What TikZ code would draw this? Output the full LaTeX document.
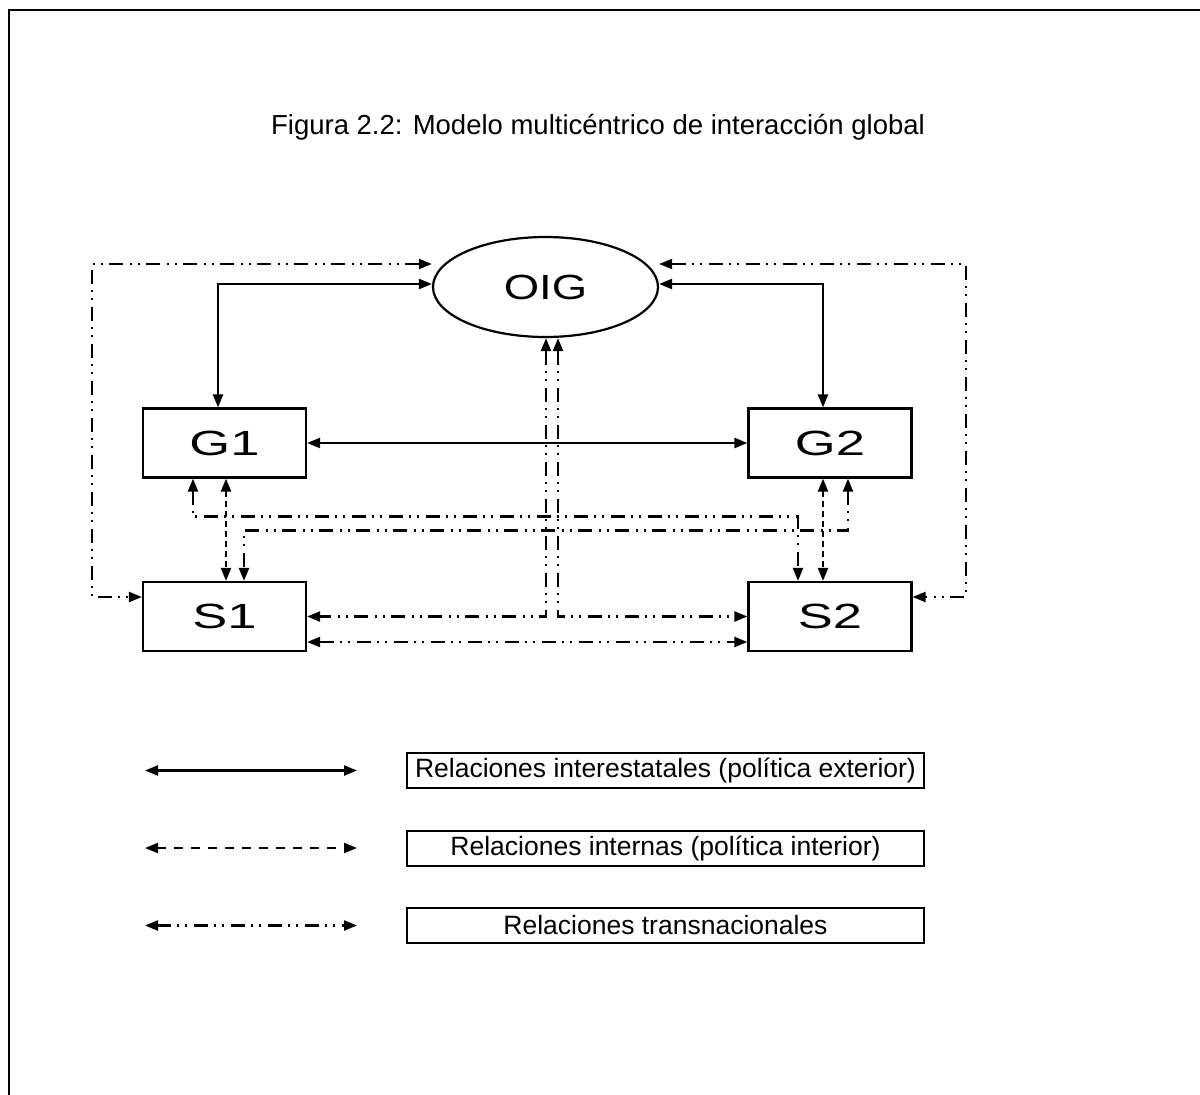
\documentclass[tikz,border=0pt]{standalone}
\usepackage{fontspec}
\setmainfont{Liberation Sans}
\usetikzlibrary{shapes.geometric,arrows.meta,calc}
\begin{document}
\begin{tikzpicture}[x=1pt,y=-1pt,
  tip/.tip={Triangle[length=13pt,width=10pt]},
  lbl/.style={font=\fontsize{35}{38}\selectfont},
  box/.style={draw, line width=2.2pt, minimum width=163pt, minimum height=69pt, inner sep=0pt, lbl},
  legbox/.style={draw, line width=2pt, minimum width=517pt, minimum height=35pt, inner sep=0pt,
    font=\fontsize{26.5}{29}\selectfont},
  inter/.style={line width=2.3pt, tip-tip},
  intern/.style={line width=2.3pt, tip-tip, dash pattern=on 6pt off 4pt},
  trans/.style={line width=2.3pt, tip-tip, dash pattern=on 14pt off 6pt on 2pt off 6pt on 2pt off 7pt},
]
\useasboundingbox (0,0) rectangle (1200,1095);
\draw[line width=2.5pt] (9,1095) -- (9,10) -- (1200,10);

\node[font=\fontsize{27.5}{30}\selectfont] (title) at (598,127) {Figura 2.2: Modelo multicéntrico de interacción global};

\node[ellipse, draw, line width=2.2pt, minimum width=225pt, minimum height=100pt, inner sep=0pt, lbl]
  (oig) at (545.5,287) {\scalebox{1.3}[1]{OIG}};
\node[box] (g1) at (224.5,443) {\scalebox{1.5}[1]{G1}};
\node[box] (g2) at (830,443) {\scalebox{1.5}[1]{G2}};
\node[box] (s1) at (224.5,616.5) {\scalebox{1.5}[1]{S1}};
\node[box] (s2) at (830,616.5) {\scalebox{1.5}[1]{S2}};

% solid
\draw[inter] ($(g1.north)+(-6.5,0)$) |- ($(oig.west)+(0,-3)$);
\draw[inter] ($(g2.north)+(-7,0)$) |- ($(oig.east)+(0,-3)$);
\draw[inter] (g1.east) -- (g2.west);

% dashed
\draw[intern] ($(g1.south)+(1.5,0)$) -- ($(s1.north)+(1.5,0)$);
\draw[intern] ($(g2.south)+(-7,0)$) -- ($(s2.north)+(-7,0)$);

% transnational
\coordinate (tl) at (92,264);
\coordinate (tr) at (966,264);
\draw[trans] ($(oig.west)+(0,-23)$) -- (tl) |- ($(s1.west)+(0,-19.5)$);
\draw[trans] ($(oig.east)+(0,-23)$) -- (tr) |- ($(s2.east)+(0,-19.5)$);
\draw[trans] ($(oig.south)+(0.5,0)$) |- (s1.east);
\draw[trans] ($(oig.south)+(12.5,0)$) |- (s2.west);
\draw[trans] ($(s1.east)+(0,25.5)$) -- ($(s2.west)+(0,25.5)$);
\draw[trans] ($(g1.south)+(-31.5,0)$) -- ($(g1.south)+(-31.5,38)$) -| ($(s2.north)+(-32,0)$);
\draw[trans] ($(g2.south)+(18,0)$) -- ($(g2.south)+(18,52)$) -| ($(s1.north)+(19.5,0)$);

% legend
\coordinate (la1) at (145,770.5);
\coordinate (lb1) at (357,770.5);
\coordinate (la2) at (145,848);
\coordinate (lb2) at (357,848);
\coordinate (la3) at (145,925.5);
\coordinate (lb3) at (357,925.5);
\draw[inter] (la1) -- (lb1);
\draw[line width=2.3pt, tip-tip, dash pattern=on 9pt off 8pt] (la2) -- (lb2);
\draw[trans] (la3) -- (lb3);
\node[legbox] (k1) at (665.5,770.5) {Relaciones interestatales (política exterior)};
\node[legbox] (k2) at (665.5,848) {Relaciones internas (política interior)};
\node[legbox] (k3) at (665.5,925.5) {Relaciones transnacionales};
\end{tikzpicture}
\end{document}
